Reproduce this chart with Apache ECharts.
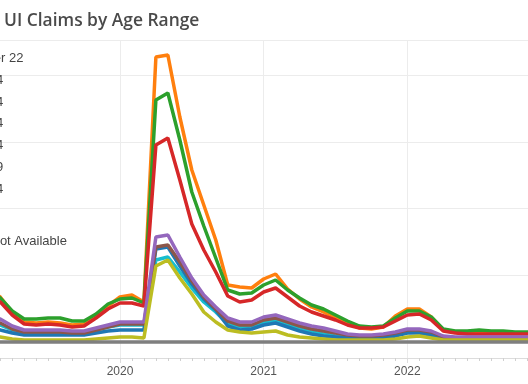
<!DOCTYPE html>
<html><head><meta charset="utf-8">
<script src="https://cdn.jsdelivr.net/npm/echarts@6/dist/echarts.min.js"></script>
<style>html,body{margin:0;padding:0;background:#fff;overflow:hidden}#c{width:528px;height:384px}</style>
</head><body><div id="c"></div>
<script>
const titleText = 'UI Claims by Age Range';
const months = [
  '2019-01','2019-02','2019-03','2019-04','2019-05','2019-06','2019-07','2019-08','2019-09','2019-10','2019-11','2019-12',
  '2020-01','2020-02','2020-03','2020-04','2020-05','2020-06','2020-07','2020-08','2020-09','2020-10','2020-11','2020-12',
  '2021-01','2021-02','2021-03','2021-04','2021-05','2021-06','2021-07','2021-08','2021-09','2021-10','2021-11','2021-12',
  '2022-01','2022-02','2022-03','2022-04','2022-05','2022-06','2022-07','2022-08','2022-09','2022-10','2022-11','2022-12'
];
const ageNames = ['Under 22','22-24','25-34','35-44','45-54','55-59','60-64','65+'];
const naName = 'Not Available';
const colors = ['#17becf','#1f77b4','#ff7f0e','#2ca02c','#d62728','#8c564b','#9467bd','#bcbd22','#7f7f7f'];
// values in thousands of claims
const under22 = [
  7.2,6.0,5.1,3.6,2.7,2.7,2.7,2.7,2.7,2.7,3.6,4.5,
  5.1,5.1,5.1,24.6,25.5,21.0,16.2,12.0,9.0,5.4,4.5,4.8,
  6.0,6.6,5.4,3.9,3.0,2.4,1.8,1.5,1.2,1.2,1.5,2.1,
  3.0,3.0,2.4,1.2,0.9,0.9,0.9,0.9,0.9,0.9,0.9,0.9
];
const age22to24 = [
  6.0,4.8,3.6,2.7,2.1,2.1,2.1,2.1,2.1,2.1,2.7,3.3,
  3.6,3.6,3.6,27.9,28.5,22.8,17.4,12.9,9.6,4.8,3.6,3.9,
  5.1,5.7,4.5,3.3,2.4,1.8,1.5,1.2,0.9,0.9,1.2,1.8,
  2.7,2.7,2.1,0.9,0.6,0.6,0.6,0.6,0.6,0.6,0.6,0.6
];
const age25to34 = [
  18.6,16.2,13.5,9.0,6.0,5.7,6.0,5.7,5.1,5.4,7.8,10.8,
  13.5,14.1,12.0,85.5,86.1,67.5,51.6,41.1,30.6,17.1,16.5,16.2,
  18.9,20.4,15.9,12.9,10.5,9.0,7.2,5.7,4.2,3.9,4.5,7.8,
  9.9,9.9,7.5,3.6,3.0,3.0,3.0,2.7,2.7,2.7,2.7,2.7
];
const age35to44 = [
  18.0,15.6,13.2,9.3,6.9,6.9,7.2,7.2,6.3,6.3,8.4,11.4,
  12.9,13.2,11.7,72.6,74.7,60.6,45.0,34.8,25.2,15.6,14.4,14.7,
  17.1,18.6,15.6,13.2,11.1,9.9,8.1,6.3,4.8,4.5,4.8,7.2,
  9.3,9.3,7.5,3.9,3.3,3.3,3.6,3.3,3.3,3.0,3.0,3.0
];
const age45to54 = [
  15.6,13.5,12.0,8.1,5.4,5.1,5.4,5.1,4.5,4.8,7.2,9.9,
  11.7,11.7,10.8,59.1,61.2,48.6,35.4,27.6,21.0,13.8,12.0,12.6,
  15.0,16.2,13.5,10.8,9.0,7.8,6.6,5.1,4.2,4.2,4.5,6.3,
  8.1,8.4,6.6,3.3,2.7,2.4,2.4,2.4,2.4,2.4,2.4,2.4
];
const age55to59 = [
  7.8,6.6,5.7,3.9,3.0,3.0,3.0,3.0,2.7,2.7,3.6,4.5,
  5.4,5.4,5.4,28.5,29.1,24.0,18.3,13.5,9.9,6.3,5.1,5.1,
  6.6,7.2,6.0,4.8,3.9,3.3,2.7,2.1,1.8,1.8,2.1,2.7,
  3.6,3.6,3.0,1.5,1.2,1.2,1.2,1.2,1.2,1.2,1.2,1.2
];
const age60to64 = [
  9.0,7.8,6.9,4.8,3.6,3.6,3.6,3.6,3.3,3.3,4.2,5.1,
  6.0,6.0,6.0,31.5,32.1,25.5,19.2,14.1,10.5,7.2,6.0,6.0,
  7.5,8.1,6.9,5.7,4.8,4.2,3.3,2.4,2.1,2.1,2.4,3.0,
  3.9,3.9,3.3,1.8,1.5,1.5,1.5,1.5,1.5,1.5,1.5,1.5
];
const age65plus = [
  2.4,1.8,1.5,0.9,0.6,0.6,0.6,0.6,0.6,0.6,0.9,1.2,
  1.5,1.5,1.2,22.8,24.6,19.2,14.4,9.0,6.0,3.6,3.0,2.7,
  3.0,3.3,2.1,1.5,1.2,0.9,0.6,0.6,0.6,0.6,0.6,0.9,
  1.5,1.8,1.2,0.6,0.6,0.6,0.6,0.6,0.6,0.6,0.6,0.6
];
const notAvailable = [
  0,0,0,0,0,0,0,0,0,0,0,0,
  0,0,0,0,0,0,0,0,0,0,0,0,
  0,0,0,0,0,0,0,0,0,0,0,0,
  0,0,0,0,0,0,0,0,0,0,0,0
];
const yearLabels = {'-12':'2019','0':'2020','12':'2021','24':'2022','36':'2023'};

const allSeries = [under22, age22to24, age25to34, age35to44, age45to54, age55to59, age60to64, age65plus, notAvailable];
const allNames = ageNames.concat([naName]);
function monthIndex(s){ const p = s.split('-'); return (parseInt(p[0],10)-2020)*12 + parseInt(p[1],10)-1; }

const chart = echarts.init(document.getElementById('c'), null, {renderer:'canvas'});
chart.setOption({
  animation: false,
  backgroundColor: '#fff',
  title: {
    text: titleText, left: 4, top: 13, padding: 0,
    textStyle: {fontFamily: 'Open Sans', fontSize: 17.4, fontWeight: 600, color: '#4a4a4a'}
  },
  legend: [
    {data: ageNames, orient: 'vertical', left: -66, top: 47, padding: 5, itemWidth: 25, itemHeight: 14, itemGap: 8.8,
     textStyle: {fontFamily: 'Liberation Sans, Arial', fontSize: 13, color: '#444'}},
    {data: [naName], orient: 'vertical', left: -45.5, top: 230, padding: 5, itemWidth: 25, itemHeight: 14,
     textStyle: {fontFamily: 'Liberation Sans, Arial', fontSize: 13, color: '#444'}}
  ],
  grid: {left: -23.7, right: -23, top: 40, bottom: 26, containLabel: false, outerBoundsMode: 'none'},
  xAxis: {
    type: 'value', min: -12, max: 36, interval: 12,
    axisLine: {show: true, onZero: false, lineStyle: {color: '#dcdcdc', width: 1}},
    axisTick: {show: true, length: 5, lineStyle: {color: '#dcdcdc'}},
    minorTick: {show: true, splitNumber: 12, length: 3, lineStyle: {color: '#d0d0d0'}},
    splitLine: {show: true, lineStyle: {color: '#ececec', width: 1}},
    axisLabel: {margin: 8, color: '#555', fontFamily: 'Liberation Sans, Arial', fontSize: 12,
      formatter: v => yearLabels[String(v)] || ''}
  },
  yAxis: {
    type: 'value', min: -4.8, max: 90.6, splitNumber: 5,
    axisLine: {show: false}, axisTick: {show: false}, axisLabel: {show: false},
    splitLine: {show: true, lineStyle: {color: '#ececec', width: 1}}
  },
  series: allSeries.map((vals, i) => ({
    name: allNames[i], type: 'line', showSymbol: false, symbol: 'none',
    lineStyle: {width: 3.5, color: colors[i]}, itemStyle: {color: colors[i]},
    data: months.map((m, j) => [monthIndex(m), vals[j]])
  }))
});
</script></body></html>
